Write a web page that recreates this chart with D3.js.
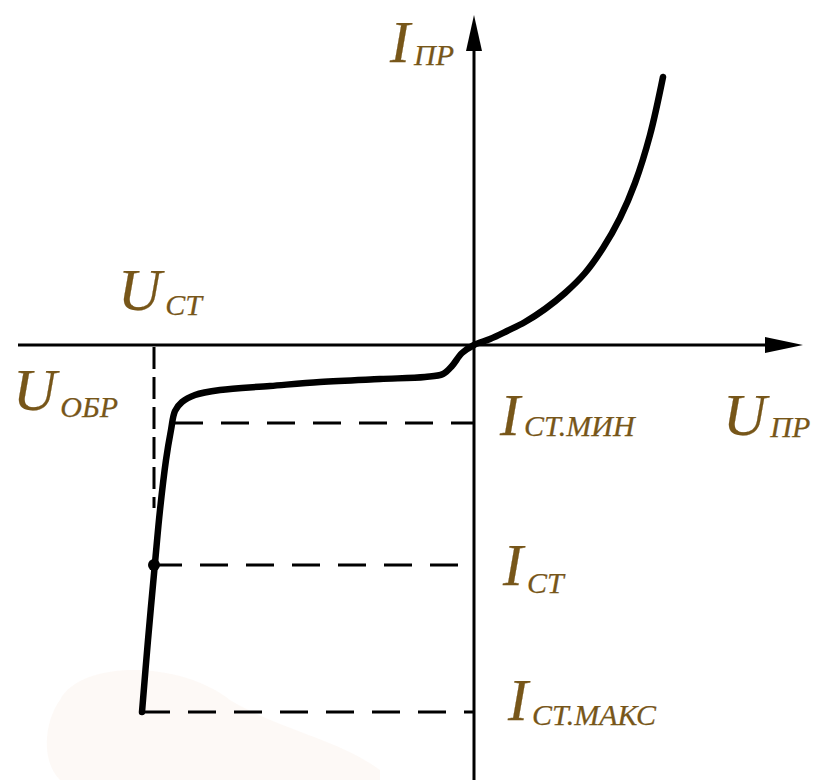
<!DOCTYPE html>
<html>
<head>
<meta charset="utf-8">
<script src="https://cdn.jsdelivr.net/npm/d3@7"></script>
<style>
  body { margin: 0; background: #fff; }
  #chart { width: 814px; height: 780px; }
</style>
</head>
<body>
<div id="chart"></div>
<script>
// volt-ampere curve of a zener diode, arbitrary units (U, I)
var curveU = [-33.2, -32.6, -31.9, -31.4, -30.8, -30.3, -29.9, -29.2, -27.9, -25.4, -20.4, -15.4, -9.4, -4.9, -3.1, -2.2, -1.2, 0, 1.6, 3.3, 5.1, 7.1, 9.1, 11.1, 12.9, 14.6, 16.1, 17.6, 18.9];
var curveI = [-36.7, -29.5, -21.8, -16.5, -11.5, -8.5, -6.6, -5.7, -5.0, -4.5, -4.1, -3.7, -3.4, -3.2, -2.9, -2.1, -0.8, 0, 0.6, 1.4, 2.3, 3.6, 5.2, 7.2, 9.7, 12.7, 16.2, 21.0, 26.8];

// stabilisation levels
var levelNames = ["СТ.МИН", "СТ", "СТ.МАКС"];
var levelI = [-7.8, -22, -36.7];
var levelU = [-29.9, -32.0, -33.2];   // where the dashed line meets the curve
var uStab = -32.0;

var widthChart = document.getElementById("chart").offsetWidth,
    heightChart = document.getElementById("chart").offsetHeight;

var svg = d3.select("#chart").append("svg")
    .attr("width", widthChart)
    .attr("height", heightChart);

var xScale = d3.scaleLinear()
    .domain([-45.6, 32.9])
    .range([18, 803]);
var yScale = d3.scaleLinear()
    .domain([-43.5, 33])
    .range([780, 15]);

var x0 = xScale(0), y0 = yScale(0);
var textColor = "#775619";

// faint background blot
svg.append("path")
    .attr("d", "M60,700 C80,660 180,660 230,700 C280,730 340,740 380,770 L380,780 L60,780 C40,760 45,720 60,700 Z")
    .attr("fill", "#fbf2ec")
    .attr("opacity", 0.45);

// dashed guides
svg.append("line")
    .attr("x1", xScale(uStab)).attr("x2", xScale(uStab))
    .attr("y1", y0 + 2).attr("y2", yScale(-16.3))
    .attr("stroke", "#000")
    .attr("stroke-width", 3)
    .attr("stroke-dasharray", "22,8");

for (let i in levelI) {
    svg.append("line")
        .attr("x1", xScale(levelU[i])).attr("x2", x0)
        .attr("y1", yScale(levelI[i])).attr("y2", yScale(levelI[i]))
        .attr("stroke", "#000")
        .attr("stroke-width", 3)
        .attr("stroke-dasharray", "28,18");
}

// axes with arrows
let xEnd = xScale.range()[1], yEnd = yScale.range()[1];
svg.append("line")
    .attr("x1", xScale.range()[0]).attr("x2", xEnd - 20)
    .attr("y1", y0).attr("y2", y0)
    .attr("stroke", "#000").attr("stroke-width", 3);
svg.append("line")
    .attr("x1", x0).attr("x2", x0)
    .attr("y1", yScale.range()[0]).attr("y2", yEnd + 20)
    .attr("stroke", "#000").attr("stroke-width", 3);
svg.append("path")
    .attr("d", "M" + xEnd + "," + y0 + " L" + (xEnd - 38) + "," + (y0 - 8) + " L" + (xEnd - 38) + "," + (y0 + 8) + " Z")
    .attr("fill", "#000");
svg.append("path")
    .attr("d", "M" + x0 + "," + yEnd + " L" + (x0 - 8) + "," + (yEnd + 36) + " L" + (x0 + 8) + "," + (yEnd + 36) + " Z")
    .attr("fill", "#000");

// characteristic
let pts = curveU.map((u, i) => [u, curveI[i]]);
let line = d3.line()
    .x(d => xScale(d[0]))
    .y(d => yScale(d[1]))
    .curve(d3.curveCatmullRom.alpha(0.5));
svg.append("path")
    .attr("d", line(pts))
    .attr("fill", "none")
    .attr("stroke", "#000")
    .attr("stroke-width", 6.5)
    .attr("stroke-linecap", "round")
    .attr("stroke-linejoin", "round");

svg.append("circle")
    .attr("cx", xScale(uStab))
    .attr("cy", yScale(levelI[1]))
    .attr("r", 6)
    .attr("fill", "#000");

// labels
function label(x, y, main, sub, subDy) {
    let t = svg.append("text")
        .attr("x", x).attr("y", y)
        .attr("font-family", "'Liberation Serif', 'Times New Roman', serif")
        .attr("font-style", "italic")
        .attr("fill", textColor)
        .attr("stroke", textColor)
        .attr("stroke-width", 0.25);
    t.append("tspan").attr("font-size", 60).text(main);
    t.append("tspan").attr("font-size", 30).attr("dx", 4).attr("dy", subDy).text(sub);
}

label(x0 - 84, 62, "I", "ПР", 3);
label(xScale(uStab) - 36, y0 - 35, "U", "СТ", 5);
label(13, 410, "U", "ОБР", 7);
label(723, 435, "U", "ПР", 2);
let labelOffX = [500, 503, 508], labelOffY = [12, 20, 8], subDy = [1, 8, 5];
for (let i in levelI) {
    label(labelOffX[i], yScale(levelI[i]) + labelOffY[i], "I", levelNames[i], subDy[i]);
}
</script>
</body>
</html>
